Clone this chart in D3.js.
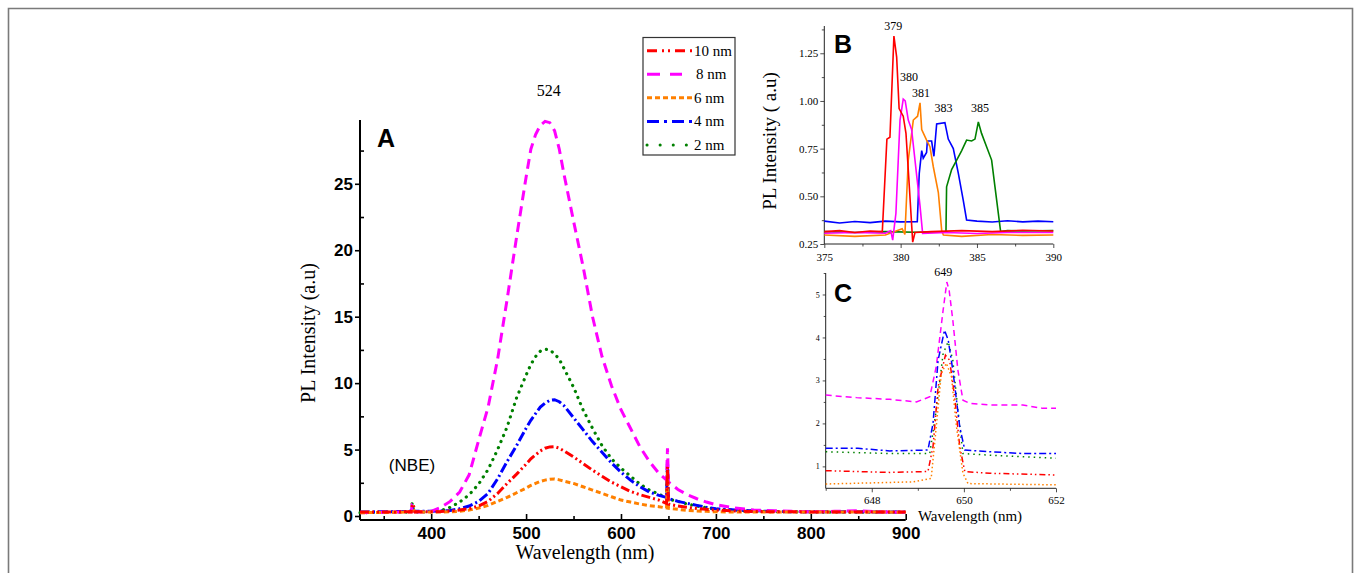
<!DOCTYPE html>
<html>
<head>
<meta charset="utf-8">
<script src="https://cdn.jsdelivr.net/npm/d3@7"></script>
<style>
  html, body { margin: 0; padding: 0; background: #fff; }
  svg { display: block; }
  .serif { font-family: "Liberation Serif", "Times New Roman", serif; }
  .sans { font-family: "Liberation Sans", Arial, sans-serif; }
</style>
</head>
<body>
<svg id="chart" width="1356" height="573"></svg>
<script>
// ---- main spectrum (panel A) ----
const mainWl = [325, 350, 375, 379, 380, 381, 383, 390,
  400, 410, 420, 430, 440, 450, 460, 470, 480, 490, 500,
  505, 510, 515, 520, 525, 530, 535, 540,
  550, 560, 570, 580, 590, 600, 610, 620, 630, 640,
  648, 649, 650, 651, 660, 670, 680, 690, 700,
  720, 740, 760, 780, 800, 825, 850, 875, 900];

const main10nm = [0.3, 0.3, 0.32, 0.32, 0.9, 0.85, 0.32, 0.32,
  0.32, 0.34, 0.38, 0.45, 0.55, 0.75, 1.1, 1.7, 2.45, 3.15, 3.9,
  4.3, 4.6, 4.9, 5.1, 5.2, 5.22, 5.1, 4.9,
  4.45, 3.95, 3.45, 3.0, 2.55, 2.2, 1.85, 1.6, 1.4, 1.2,
  0.95, 3.7, 0.9, 0.88, 0.75, 0.65, 0.56, 0.5, 0.45,
  0.38, 0.34, 0.32, 0.32, 0.3, 0.3, 0.3, 0.3, 0.3];
const main8nm = [0.25, 0.28, 0.3, 0.3, 0.8, 0.75, 0.3, 0.3,
  0.35, 0.65, 1.1, 1.8, 3.1, 5.7, 8.2, 11.8, 16.3, 21.0, 25.5,
  27.6, 28.7, 29.4, 29.7, 29.6, 29.0, 27.6, 25.7,
  22.2, 18.8, 15.0, 12.0, 9.8, 8.0, 6.6, 5.2, 4.1, 3.2,
  2.7, 5.1, 2.6, 2.5, 2.0, 1.6, 1.3, 1.05, 0.85,
  0.6, 0.45, 0.4, 0.35, 0.32, 0.35, 0.4, 0.3, 0.28];
const main6nm = [0.25, 0.27, 0.3, 0.3, 0.55, 0.5, 0.3, 0.3,
  0.3, 0.3, 0.32, 0.36, 0.45, 0.6, 0.8, 1.1, 1.4, 1.75, 2.1,
  2.3, 2.45, 2.6, 2.7, 2.76, 2.78, 2.72, 2.62,
  2.45, 2.2, 1.95, 1.7, 1.45, 1.2, 1.05, 0.9, 0.78, 0.7,
  0.6, 3.4, 0.58, 0.57, 0.5, 0.42, 0.38, 0.35, 0.32,
  0.3, 0.3, 0.3, 0.3, 0.3, 0.3, 0.3, 0.3, 0.28];
const main4nm = [0.3, 0.32, 0.35, 0.35, 0.6, 0.4, 0.35, 0.35,
  0.35, 0.38, 0.42, 0.55, 0.75, 1.1, 1.7, 2.8, 4.1, 5.3, 6.6,
  7.2, 7.7, 8.2, 8.5, 8.7, 8.75, 8.6, 8.3,
  7.4, 6.5, 5.6, 4.8, 4.0, 3.3, 2.7, 2.2, 1.8, 1.55,
  1.4, 4.1, 1.35, 1.3, 1.1, 0.95, 0.8, 0.65, 0.55,
  0.45, 0.38, 0.35, 0.33, 0.32, 0.32, 0.32, 0.3, 0.3];
const main2nm = [0.25, 0.28, 0.3, 0.3, 1.0, 0.6, 0.3, 0.3,
  0.32, 0.4, 0.65, 1.05, 1.6, 2.4, 3.5, 5.0, 6.7, 8.9, 10.6,
  11.4, 12.0, 12.4, 12.55, 12.5, 12.2, 11.8, 11.1,
  9.7, 8.0, 6.6, 5.3, 4.3, 3.6, 3.0, 2.4, 1.95, 1.65,
  1.35, 3.9, 1.3, 1.25, 1.1, 0.9, 0.75, 0.62, 0.52,
  0.42, 0.36, 0.33, 0.32, 0.3, 0.3, 0.3, 0.3, 0.28];

const seriesNames = ["10 nm", "8 nm", "6 nm", "4 nm", "2 nm"];
const mainYTicks = [0, 5, 10, 15, 20, 25];
const mainXTicks = [400, 500, 600, 700, 800, 900];

// ---- inset B (NBE region) ----
const b10X = [375, 376, 377, 378, 378.8, 379.1, 379.3, 379.56, 379.74, 379.9, 380.17, 380.35, 380.57, 380.79, 380.94, 382, 384, 386, 388, 390];
const b10Y = [0.315, 0.32, 0.31, 0.318, 0.315, 0.80, 0.81, 1.34, 1.23, 0.96, 0.92, 0.83, 0.55, 0.26, 0.31, 0.315, 0.32, 0.315, 0.322, 0.318];
const b8X = [375, 377, 379, 379.35, 379.48, 379.69, 379.96, 380.17, 380.3, 380.5, 380.72, 380.94, 381.27, 381.44, 383, 385, 387, 390];
const b8Y = [0.306, 0.31, 0.306, 0.32, 0.27, 0.41, 0.9, 1.01, 1.0, 0.9, 0.85, 0.69, 0.45, 0.306, 0.31, 0.305, 0.31, 0.31];
const b6X = [375, 377, 379, 380.1, 380.28, 380.5, 380.83, 381.11, 381.27, 381.38, 381.7, 381.92, 382.14, 382.47, 382.69, 382.8, 384, 386, 388, 390];
const b6Y = [0.297, 0.29, 0.297, 0.33, 0.30, 0.69, 0.9, 0.92, 0.99, 0.85, 0.795, 0.76, 0.655, 0.52, 0.32, 0.297, 0.29, 0.3, 0.295, 0.297];
const b4X = [375, 376, 377, 378, 379, 380, 381.09, 381.22, 381.38, 381.48, 381.7, 381.75, 382.03, 382.18, 382.36, 382.9, 383.12, 383.45, 383.78, 384.1, 384.32, 385, 386, 387, 388, 389, 390];
const b4Y = [0.37, 0.36, 0.368, 0.362, 0.37, 0.366, 0.367, 0.62, 0.74, 0.70, 0.73, 0.79, 0.79, 0.71, 0.88, 0.886, 0.80, 0.75, 0.62, 0.48, 0.376, 0.37, 0.365, 0.372, 0.366, 0.37, 0.367];
const b2X = [375, 377, 379, 381, 382.97, 383.01, 383.34, 383.67, 384.0, 384.32, 384.65, 384.87, 385.09, 385.3, 385.63, 385.96, 386.18, 386.55, 387, 388, 390];
const b2Y = [0.315, 0.31, 0.315, 0.312, 0.315, 0.55, 0.64, 0.69, 0.74, 0.795, 0.79, 0.80, 0.89, 0.83, 0.76, 0.69, 0.55, 0.315, 0.32, 0.318, 0.32];
const bPeakLabels = ["379", "380", "381", "383", "385"];
const bLabelX = [379.52, 380.55, 381.33, 382.8, 385.2];
const bLabelY = [1.372, 1.104, 1.02, 0.942, 0.942];
const bYTicks = [0.25, 0.5, 0.75, 1.0, 1.25];
const bXTicks = [375, 380, 385, 390];

// ---- inset C (649 nm line) ----
const c10X = [647.0, 648.39, 649.22, 649.33, 649.44, 649.6, 649.69, 649.8, 649.91, 650.02, 650.56, 652];
const c10Y = [0.9, 0.86, 0.88, 1.46, 2.85, 3.59, 3.47, 2.62, 1.46, 0.88, 0.84, 0.80];
const c8X = [647.0, 647.67, 648.39, 648.97, 649.26, 649.4, 649.55, 649.63, 649.68, 649.76, 649.87, 649.98, 650.12, 650.56, 651.28, 651.71, 652];
const c8Y = [2.66, 2.60, 2.56, 2.50, 2.62, 3.32, 4.64, 5.29, 5.1, 4.4, 3.24, 2.54, 2.47, 2.43, 2.43, 2.35, 2.35];
const c6X = [647.0, 648.9, 649.29, 649.4, 649.51, 649.62, 649.73, 649.84, 649.98, 650.09, 652];
const c6Y = [0.59, 0.64, 0.72, 1.92, 3.16, 3.4, 3.09, 1.92, 0.84, 0.6, 0.57];
const c4X = [647.0, 647.7, 648.39, 649.22, 649.33, 649.44, 649.58, 649.66, 649.76, 649.91, 650.02, 650.56, 651.28, 652];
const c4Y = [1.42, 1.42, 1.36, 1.38, 2.0, 3.47, 4.17, 3.94, 3.24, 1.92, 1.38, 1.34, 1.30, 1.30];
const c2X = [647.0, 648.39, 649.26, 649.4, 649.55, 649.66, 649.76, 649.87, 649.98, 650.56, 652];
const c2Y = [1.34, 1.30, 1.30, 2.31, 3.63, 3.9, 3.47, 2.31, 1.30, 1.26, 1.19];
const cYTicks = [1, 2, 3, 4, 5];
const cXTicks = [648, 650, 652];


const colors = ["#ff0000", "#ff00ff", "#ff8000", "#0000ff", "#008000"];
const mainDash = ["9,3,2,3,2,3", "10,6", "5,3", "10,3,2,3", "0.1,6.5"];
const legendDash = ["10,5,2,4,2,5", "13,10,12,20", "5,3", "12,5,3,5", "0.1,13"];
const insetCDash = ["6,3,1.5,3,1.5,3", "6,4", "1.5,2.5", "7,3,2,3", "1.5,4"];

const zipXY = (xs, ys) => xs.map((x, i) => ({ x, y: ys[i] }));

const svg = d3.select("#chart");

// outer frame, open at bottom
svg.append("path")
  .attr("d", "M8.5,573 V8.5 H1352.5 V573")
  .attr("fill", "none")
  .attr("stroke", "#7a7a7a")
  .attr("stroke-width", 1.6);

function drawAxes(g, x, y, opt) {
  const x0 = x.range()[0], y0 = y.range()[0];
  const xa = d3.axisBottom(x).tickValues(opt.xTicks)
    .tickSize(opt.xTickSize).tickPadding(opt.xPad).tickFormat(opt.xFmt || d3.format("d"));
  const ya = d3.axisLeft(y).tickValues(opt.yTicks)
    .tickSize(opt.yTickSize).tickPadding(opt.yPad).tickFormat(opt.yFmt || d3.format("d"));
  g.append("g").attr("transform", `translate(0,${y0})`)
    .call(d3.axisBottom(x).tickValues(opt.xMinor).tickSize(opt.xMinorSize).tickFormat(""))
    .call(a => a.select(".domain").remove());
  g.append("g").attr("transform", `translate(${x0},0)`)
    .call(d3.axisLeft(y).tickValues(opt.yMinor).tickSize(opt.yMinorSize).tickFormat(""))
    .call(a => a.select(".domain").remove());
  const gx = g.append("g").attr("transform", `translate(0,${y0})`).call(xa);
  const gy = g.append("g").attr("transform", `translate(${x0},0)`).call(ya);
  [gx, gy].forEach(a => {
    a.select(".domain").attr("stroke-width", opt.lw).attr("stroke", opt.color);
    a.selectAll("text")
      .attr("class", opt.fontClass)
      .attr("font-family", null)
      .attr("font-size", opt.fontSize)
      .attr("font-weight", opt.fontWeight)
      .attr("fill", "#000");
  });
  g.selectAll(".tick line").attr("stroke-width", opt.lw * 0.8).attr("stroke", opt.color);
  gx.select(".domain").attr("d", `M${x.range()[0]},0H${x.range()[1]}`);
  gy.select(".domain").attr("d", `M0,${y.range()[0]}V${y.range()[1]}`);
  gx.selectAll("text").attr("font-size", opt.xFontSize || opt.fontSize);
}

// ---- panel A ----
const mx = d3.scaleLinear().domain([325, 900]).range([360, 905.7]);
const my = d3.scaleLinear().domain([-0.3, 29.8]).range([520, 120]);
const gA = svg.append("g");

drawAxes(gA, mx, my, {
  xTicks: mainXTicks, yTicks: mainYTicks,
  xMinor: [350, 450, 550, 650, 750, 850], yMinor: [2.5, 7.5, 12.5, 17.5, 22.5, 27.5],
  xTickSize: -6, xMinorSize: -4, yTickSize: 5, yMinorSize: -4,
  xPad: 7, yPad: 2, lw: 2, color: "#000",
  fontClass: "sans", fontSize: 17, fontWeight: "bold"
});

const mainSeries = [main10nm, main8nm, main6nm, main4nm, main2nm];
const mainLine = d3.line().x(d => mx(d.x)).y(d => my(d.y));
const drawOrder = [4, 3, 1, 2, 0];
drawOrder.forEach(i => {
  gA.append("path")
    .datum(zipXY(mainWl, mainSeries[i]))
    .attr("d", mainLine)
    .attr("fill", "none")
    .attr("stroke", colors[i])
    .attr("stroke-width", i === 4 ? 3.2 : 3)
    .attr("stroke-linecap", i === 4 ? "round" : "butt")
    .attr("stroke-dasharray", mainDash[i]);
});

svg.append("text").attr("class", "serif")
  .attr("x", 308).attr("y", 333)
  .attr("transform", "rotate(-90,308,333)")
  .attr("text-anchor", "middle").attr("dominant-baseline", "central")
  .attr("font-size", 20).text("PL Intensity (a.u)");
svg.append("text").attr("class", "serif")
  .attr("x", 585).attr("y", 559)
  .attr("text-anchor", "middle").attr("font-size", 20).text("Wavelength (nm)");
svg.append("text").attr("class", "sans")
  .attr("x", 377).attr("y", 147)
  .attr("font-size", 25).attr("font-weight", "bold").text("A");
svg.append("text").attr("class", "sans")
  .attr("x", 412).attr("y", 471)
  .attr("text-anchor", "middle").attr("font-size", 17).text("(NBE)");
svg.append("text").attr("class", "serif")
  .attr("x", mx(524)).attr("y", 96)
  .attr("text-anchor", "middle").attr("font-size", 16).text("524");

// legend
const legend = svg.append("g");
legend.append("rect")
  .attr("x", 643).attr("y", 37.5).attr("width", 92).attr("height", 117.5)
  .attr("fill", "#fff").attr("stroke", "#333").attr("stroke-width", 1.2);
const ly = d3.scalePoint().domain(seriesNames).range([50.7, 145]);
seriesNames.forEach((name, i) => {
  legend.append("line")
    .attr("x1", 647).attr("x2", 692).attr("y1", ly(name)).attr("y2", ly(name))
    .attr("stroke", colors[i]).attr("stroke-width", 3)
    .attr("stroke-linecap", i === 4 ? "round" : "butt")
    .attr("stroke-dasharray", legendDash[i]);
  legend.append("text").attr("class", "serif")
    .attr("x", i === 1 ? 696 : 694).attr("y", ly(name) + 5)
    .attr("font-size", 15).text(name);
});

// ---- inset B ----
const bx = d3.scaleLinear().domain([375, 390]).range([824.3, 1053.3]);
const by = d3.scaleLinear().domain([0.25, 1.393]).range([244, 26]);
const gB = svg.append("g");
drawAxes(gB, bx, by, {
  xTicks: bXTicks, yTicks: bYTicks,
  xMinor: [377.5, 382.5, 387.5], yMinor: [0.375, 0.625, 0.875, 1.125, 1.375],
  xTickSize: 4, xMinorSize: 2.5, yTickSize: 4, yMinorSize: 2.5,
  xPad: 5, yPad: 2, lw: 1, color: "#222",
  fontClass: "serif", fontSize: 11, fontWeight: "normal",
  yFmt: d3.format(".2f")
});
const bSeries = [zipXY(b10X, b10Y), zipXY(b8X, b8Y), zipXY(b6X, b6Y), zipXY(b4X, b4Y), zipXY(b2X, b2Y)];
const bLine = d3.line().x(d => bx(d.x)).y(d => by(d.y));
[3, 4, 2, 1, 0].forEach(i => {
  gB.append("path").datum(bSeries[i])
    .attr("d", bLine).attr("fill", "none")
    .attr("stroke", colors[i]).attr("stroke-width", 1.6);
});
gB.selectAll(".peak").data(bPeakLabels).enter().append("text")
  .attr("class", "serif")
  .attr("x", (d, i) => bx(bLabelX[i]))
  .attr("y", (d, i) => by(bLabelY[i]))
  .attr("text-anchor", "middle").attr("font-size", 12).text(d => d);
svg.append("text").attr("class", "serif")
  .attr("x", 769).attr("y", 141)
  .attr("transform", "rotate(-90,769,141)")
  .attr("text-anchor", "middle").attr("dominant-baseline", "central")
  .attr("font-size", 19).text("PL Intensity ( a.u)");
svg.append("text").attr("class", "sans")
  .attr("x", 834).attr("y", 53)
  .attr("font-size", 25).attr("font-weight", "bold").text("B");

// ---- inset C ----
const cx = d3.scaleLinear().domain([647, 652]).range([825.7, 1056]);
const cy = d3.scaleLinear().domain([0.49, 5.5]).range([488.3, 273]);
const gC = svg.append("g");
drawAxes(gC, cx, cy, {
  xTicks: cXTicks, yTicks: cYTicks,
  xMinor: [647, 649, 651], yMinor: [1.5, 2.5, 3.5, 4.5, 5.5],
  xTickSize: 4, xMinorSize: 2.5, yTickSize: 3, yMinorSize: 2,
  xPad: 4, yPad: 3, lw: 1, color: "#222",
  fontClass: "serif", fontSize: 8, xFontSize: 11, fontWeight: "normal"
});
const cSeries = [zipXY(c10X, c10Y), zipXY(c8X, c8Y), zipXY(c6X, c6Y), zipXY(c4X, c4Y), zipXY(c2X, c2Y)];
const cLine = d3.line().x(d => cx(d.x)).y(d => cy(d.y));
[1, 4, 3, 0, 2].forEach(i => {
  gC.append("path").datum(cSeries[i])
    .attr("d", cLine).attr("fill", "none")
    .attr("stroke", colors[i]).attr("stroke-width", 1.5)
    .attr("stroke-dasharray", insetCDash[i]);
});
svg.append("text").attr("class", "serif")
  .attr("x", cx(649.55)).attr("y", 276)
  .attr("text-anchor", "middle").attr("font-size", 12).text("649");
svg.append("text").attr("class", "sans")
  .attr("x", 834).attr("y", 302)
  .attr("font-size", 25).attr("font-weight", "bold").text("C");
svg.append("text").attr("class", "serif")
  .attr("x", 970).attr("y", 521)
  .attr("text-anchor", "middle").attr("font-size", 15).text("Wavelength (nm)");
</script>
</body>
</html>
